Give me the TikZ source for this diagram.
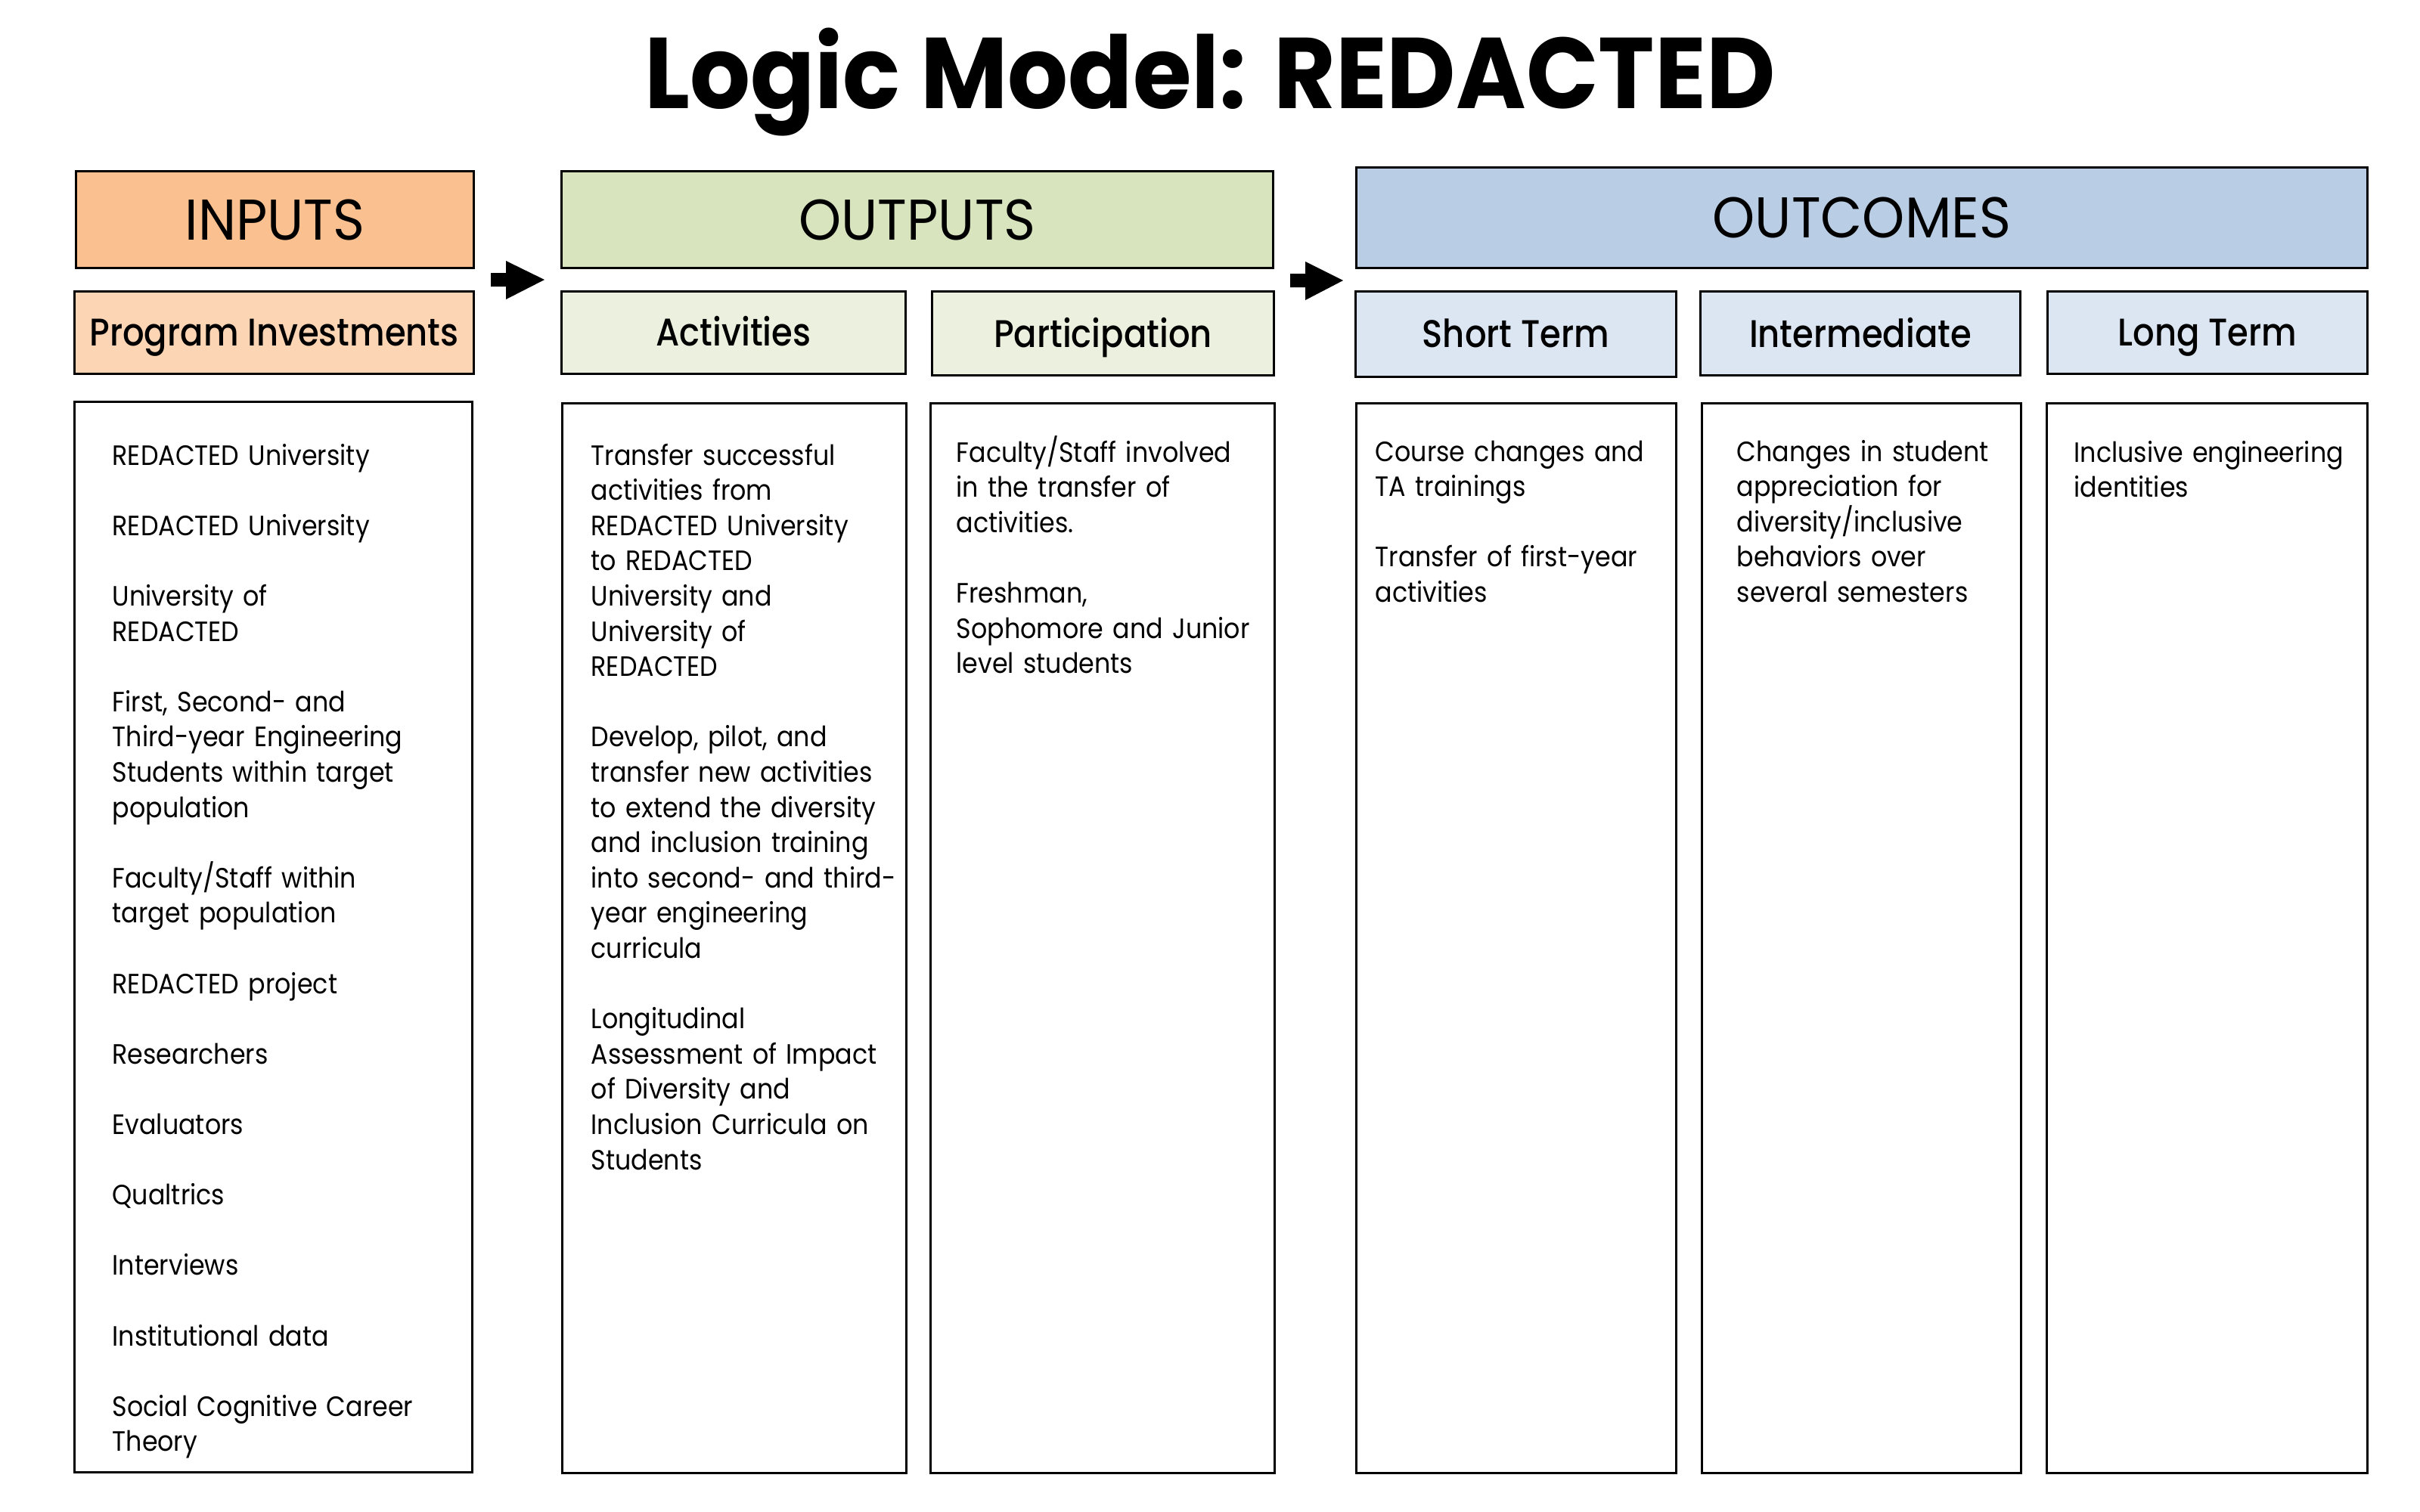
\documentclass[tikz,border=0pt]{standalone}
\usepackage{fontspec}
\setmainfont{Poppins}
\newfontfamily\titlefont{Poppins}[FakeStretch=0.945]
\newfontfamily\headfont{Poppins}[FakeStretch=0.94]
\newfontfamily\medfont{Poppins Medium}[FakeStretch=0.88]
\newfontfamily\listfont{Poppins}[FakeStretch=0.9]

\definecolor{inputsfill}{HTML}{FAC090}
\definecolor{investfill}{HTML}{FCD5B5}
\definecolor{outputsfill}{HTML}{D7E4BD}
\definecolor{activfill}{HTML}{EBF1DE}
\definecolor{outcomesfill}{HTML}{B9CDE5}
\definecolor{termfill}{HTML}{DCE6F2}

\newcommand{\itemgap}{\\[\baselineskip]}

\tikzset{
  topbox/.style={draw, line width=0.85pt, anchor=north west, inner sep=0pt,
    font=\headfont\fontsize{0.76cm}{0.9cm}\selectfont, text height=0.53cm, text depth=0pt},
  subbox/.style={draw, line width=0.85pt, anchor=north west, inner sep=0pt,
    font=\medfont\fontsize{0.51cm}{0.6cm}\selectfont, text height=0.36cm, text depth=0pt},
  listbox/.style={draw, line width=0.85pt, anchor=north west, inner sep=0pt},
  listtext/.style={anchor=base west, inner sep=0pt, align=left, text width=4.6cm,
    font=\listfont\fontsize{0.37cm}{0.466cm}\selectfont},
}

\begin{document}
\begin{tikzpicture}[x=1cm,y=-1cm]
\useasboundingbox (0,0) rectangle (32,20);

 \node[font=\titlefont\bfseries\fontsize{1.33cm}{1.5cm}\selectfont, anchor=base] (title) at (16,1.43) {Logic Model: REDACTED};

% Column headers
 \node[topbox, fill=inputsfill, minimum width=5.26cm, minimum height=1.28cm] (inputs) at (0.99,2.25) {INPUTS};
 \node[topbox, fill=outputsfill, minimum width=9.41cm, minimum height=1.28cm] (outputs) at (7.41,2.25) {OUTPUTS};
 \node[topbox, fill=outcomesfill, minimum width=13.37cm, minimum height=1.33cm] (outcomes) at (17.92,2.20) {OUTCOMES};

% Block arrows between the columns
 \fill (6.49,3.61) -- (6.69,3.61) -- (6.69,3.45) -- (7.20,3.70) -- (6.69,3.96) -- (6.69,3.79) -- (6.49,3.79) -- cycle;
 \fill (17.06,3.62) -- (17.26,3.62) -- (17.26,3.46) -- (17.76,3.71) -- (17.26,3.97) -- (17.26,3.80) -- (17.06,3.80) -- cycle;

% Sub headers
 \node[subbox, fill=investfill, minimum width=5.28cm, minimum height=1.09cm] (invest) at (0.97,3.84) {Program Investments};
 \node[subbox, fill=activfill, minimum width=4.55cm, minimum height=1.09cm] (activ) at (7.41,3.84) {Activities};
 \node[subbox, fill=activfill, minimum width=4.52cm, minimum height=1.11cm] (partic) at (12.31,3.84) {Participation};
 \node[subbox, fill=termfill, minimum width=4.24cm, minimum height=1.13cm] (short) at (17.91,3.84) {Short Term};
 \node[subbox, fill=termfill, minimum width=4.23cm, minimum height=1.11cm] (inter) at (22.47,3.84) {Intermediate};
 \node[subbox, fill=termfill, minimum width=4.23cm, minimum height=1.09cm] (long) at (27.06,3.84) {Long Term};

% Content boxes
 \node[listbox, minimum width=5.26cm, minimum height=14.16cm] (investlist) at (0.97,5.30) {};
 \node[listbox, minimum width=4.55cm, minimum height=14.15cm] (activlist) at (7.42,5.32) {};
 \node[listbox, minimum width=4.55cm, minimum height=14.15cm] (particlist) at (12.29,5.32) {};
 \node[listbox, minimum width=4.23cm, minimum height=14.15cm] (shortlist) at (17.92,5.32) {};
 \node[listbox, minimum width=4.22cm, minimum height=14.15cm] (interlist) at (22.49,5.32) {};
 \node[listbox, minimum width=4.24cm, minimum height=14.15cm] (longlist) at (27.05,5.32) {};

% Content text
 \node[listtext] (investtext) at (1.48,6.15) {REDACTED University\itemgap
   REDACTED University\itemgap
   University of\\REDACTED\itemgap
   First, Second- and\\Third-year Engineering\\Students within target\\population\itemgap
   Faculty/Staff within\\target population\itemgap
   REDACTED project\itemgap
   Researchers\itemgap
   Evaluators\itemgap
   Qualtrics\itemgap
   Interviews\itemgap
   Institutional data\itemgap
   Social Cognitive Career\\Theory};
 \node[listtext] (activtext) at (7.81,6.15) {Transfer successful\\activities from\\REDACTED University\\to REDACTED\\University and\\University of\\REDACTED\itemgap
   Develop, pilot, and\\transfer new activities\\to extend the diversity\\and inclusion training\\into second- and third-\\year engineering\\curricula\itemgap
   Longitudinal\\Assessment of Impact\\of Diversity and\\Inclusion Curricula on\\Students};
 \node[listtext] (partictext) at (12.64,6.11) {Faculty/Staff involved\\in the transfer of\\activities.\itemgap
   Freshman,\\Sophomore and Junior\\level students};
 \node[listtext] (shorttext) at (18.18,6.10) {Course changes and\\TA trainings\itemgap
   Transfer of first-year\\activities};
 \node[listtext] (intertext) at (22.96,6.10) {Changes in student\\appreciation for\\diversity/inclusive\\behaviors over\\several semesters};
 \node[listtext] (longtext) at (27.42,6.11) {Inclusive engineering\\identities};

\end{tikzpicture}
\end{document}
